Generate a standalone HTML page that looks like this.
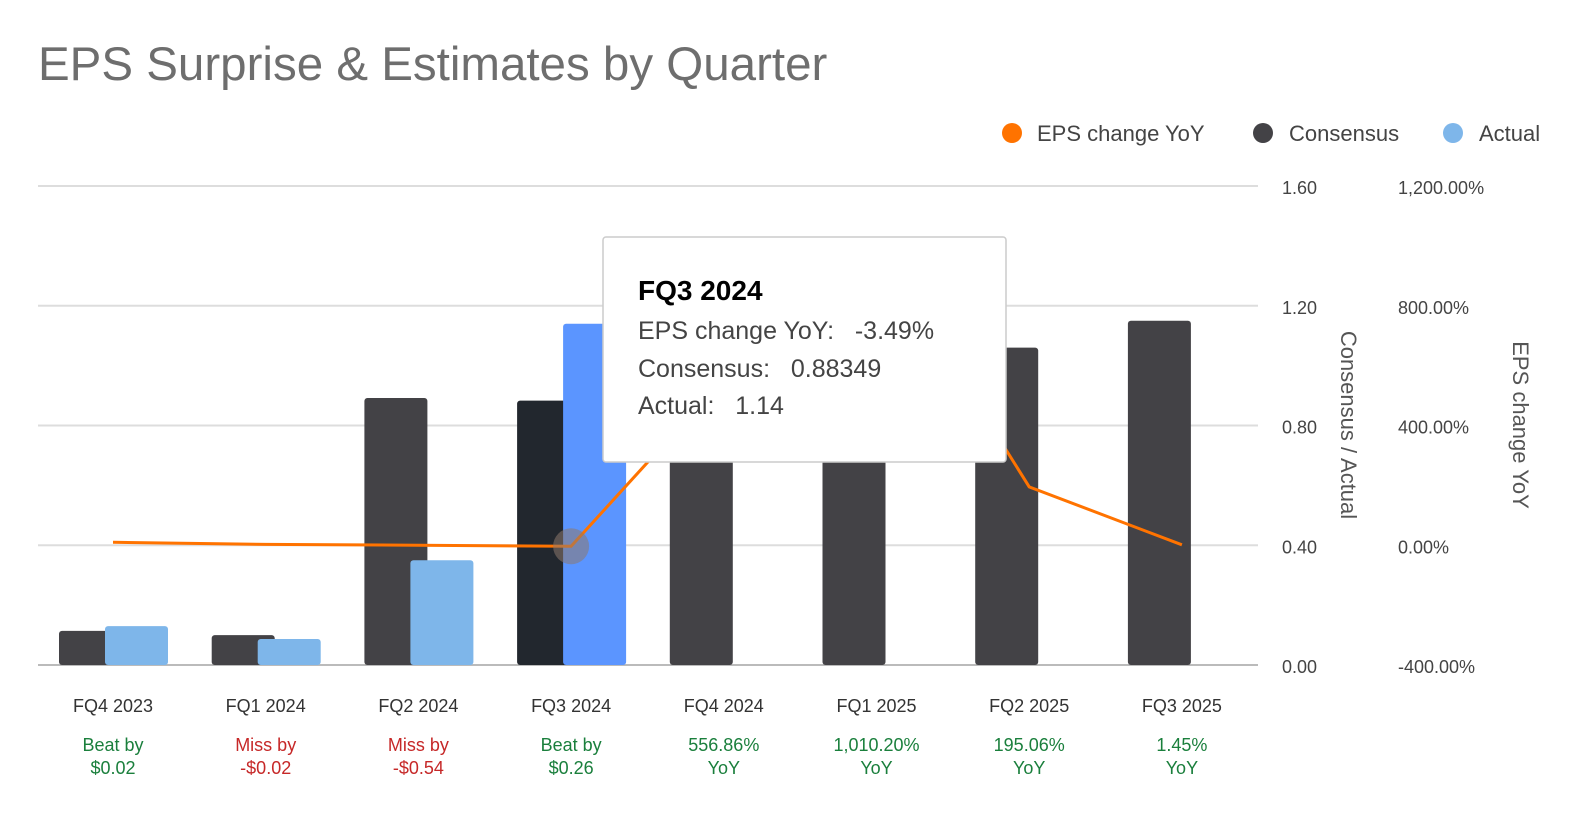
<!DOCTYPE html>
<html><head><meta charset="utf-8"><style>
body{margin:0;background:#fff;width:1586px;height:810px;overflow:hidden;font-family:"Liberation Sans",Arial,sans-serif}
</style></head><body>
<svg id="c" width="1586" height="810" xmlns="http://www.w3.org/2000/svg">
<text x="38" y="80" font-size="47.5" fill="#6e6e6e">EPS Surprise &amp; Estimates by Quarter</text>
<g font-size="22" fill="#444">
<circle cx="1012" cy="133" r="10" fill="#ff7300"/>
<text x="1037" y="141">EPS change YoY</text>
<circle cx="1263" cy="133" r="10" fill="#434246"/>
<text x="1289" y="141">Consensus</text>
<circle cx="1453" cy="133" r="10" fill="#7eb6ea"/>
<text x="1479" y="141">Actual</text>
</g>
<text transform="translate(1341,425) rotate(90)" text-anchor="middle" font-size="22" fill="#555">Consensus / Actual</text>
<text transform="translate(1513,425) rotate(90)" text-anchor="middle" font-size="22" fill="#555">EPS change YoY</text>
<g id="grid"></g><g id="bars"></g><g id="line"></g><g id="labels"></g>
<g>
<rect x="603" y="237" width="403" height="225" rx="3" fill="#fff" stroke="#ccc" stroke-width="1.5"/>
<text x="638" y="300" font-size="28" font-weight="bold" fill="#000">FQ3 2024</text>
<text x="638" y="339" font-size="25" fill="#444">EPS change YoY:&#160;&#160;&#160;-3.49%</text>
<text x="638" y="377" font-size="25" fill="#444">Consensus:&#160;&#160;&#160;0.88349</text>
<text x="638" y="414" font-size="25" fill="#444">Actual:&#160;&#160;&#160;1.14</text>
</g>
</svg>
<script>
const categories=["FQ4 2023","FQ1 2024","FQ2 2024","FQ3 2024","FQ4 2024","FQ1 2025","FQ2 2025","FQ3 2025"];
const consensus=[0.114,0.10,0.892,0.883,0.93,1.00,1.06,1.15];
const actual=[0.13,0.087,0.35,1.14,null,null,null,null];
const yoy=[10,3,0,-3.49,556.86,1010.2,195.06,1.45];
const leftTicks=[0,0.4,0.8,1.2,1.6];
const rightTicks=[-400,0,400,800,1200];
const notes1=["Beat by","Miss by","Miss by","Beat by","556.86%","1,010.20%","195.06%","1.45%"];
const notes2=["$0.02","-$0.02","-$0.54","$0.26","YoY","YoY","YoY","YoY"];
const noteColor=["#1a7f3c","#c62828","#c62828","#1a7f3c","#1a7f3c","#1a7f3c","#1a7f3c","#1a7f3c"];
const hi=3;
const NS="http://www.w3.org/2000/svg";
const y0=665,y1=186;
const yL=v=>y0-(v/1.6)*(y0-y1);
const yR=v=>y0-((v+400)/1600)*(y0-y1);
const xC=i=>113+i*152.7;
function mk(t,a,p){const e=document.createElementNS(NS,t);for(const k in a)e.setAttribute(k,a[k]);p.appendChild(e);return e;}
const grid=document.getElementById('grid'),bars=document.getElementById('bars'),line=document.getElementById('line'),labels=document.getElementById('labels');
leftTicks.forEach((v,i)=>{
 const l=mk('line',{x1:38,x2:1258,y1:yL(v),y2:yL(v),stroke:i==0?'#bbb':'#ddd','stroke-width':2},grid);
 
 
 const t=mk('text',{x:1282,y:yL(v)+8,'font-size':18,fill:'#444'},grid);t.textContent=v.toFixed(2);
 
 
});
rightTicks.forEach(v=>{
 const t=mk('text',{x:1398,y:yR(v)+8,'font-size':18,fill:'#444'},grid);t.textContent=v.toLocaleString('en-US',{minimumFractionDigits:2})+'%';
 
 
});
categories.forEach((c,i)=>{
 const x=xC(i);
 const b=mk('rect',{x:x-54,y:yL(consensus[i]),width:63,height:y0-yL(consensus[i]),rx:3,fill:i==hi?'#22272e':'#434246'},bars);
 
 
 if(actual[i]!=null){
  const a=mk('rect',{x:x-8,y:yL(actual[i]),width:63,height:y0-yL(actual[i]),rx:3,fill:i==hi?'#5b95ff':'#7eb6ea'},bars);
  
  
 }
 const t=mk('text',{x:x,y:712,'text-anchor':'middle','font-size':18,fill:'#333'},labels);t.textContent=c;
 
 
 const n1=mk('text',{x:x,y:751,'text-anchor':'middle','font-size':18,fill:noteColor[i]},labels);n1.textContent=notes1[i];
 
 
 const n2=mk('text',{x:x,y:774,'text-anchor':'middle','font-size':18,fill:noteColor[i]},labels);n2.textContent=notes2[i];
 
 
});
const pts=yoy.map((v,i)=>xC(i)+','+yR(v)).join(' ');
const pl=mk('polyline',{points:pts,fill:'none',stroke:'#ff7300','stroke-width':3},line);


const hc=mk('circle',{cx:xC(hi),cy:yR(yoy[hi]),r:18,fill:'rgba(140,120,110,0.55)'},line);


</script>
</body></html>
